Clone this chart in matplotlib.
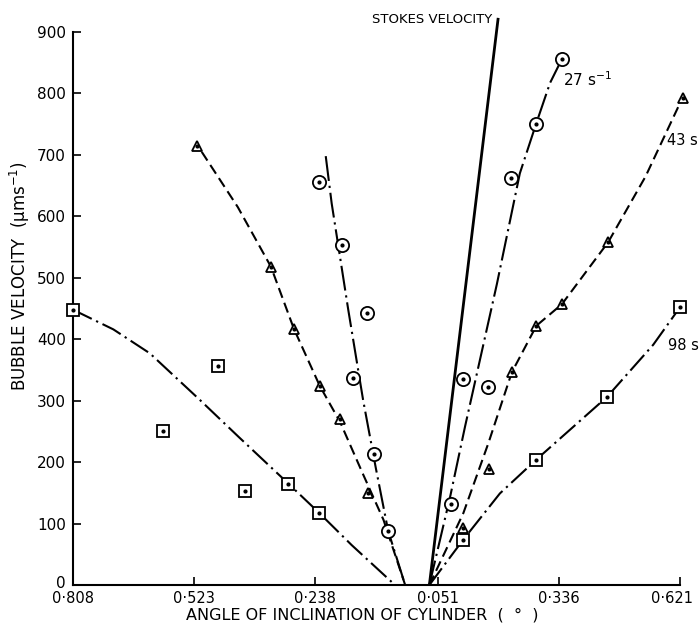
import matplotlib
matplotlib.use("Agg")
import matplotlib.pyplot as plt
from matplotlib.transforms import ScaledTranslation

# ---- data (signed angle: left side negative, right side positive) ----
# left branch
sq_left_x = [-0.808, -0.597, -0.466, -0.403, -0.301, -0.228]
sq_left_y = [448, 251, 357, 153, 165, 117]
sq_left_curve_x = [-0.808, -0.713, -0.627, -0.509, -0.418, -0.301, -0.228, -0.152, -0.050]
sq_left_curve_y = [448, 416, 377, 301, 241, 165, 117, 65, 0]

tri_left_x = [-0.515, -0.342, -0.288, -0.227, -0.179, -0.114]
tri_left_y = [715, 518, 417, 324, 270, 149]
tri_left_curve_x = [-0.505, -0.420, -0.342, -0.288, -0.227, -0.179, -0.125, -0.077, -0.026]
tri_left_curve_y = [705, 615, 518, 417, 324, 265, 180, 106, 0]

cir_left_x = [-0.230, -0.174, -0.116, -0.148, -0.099, -0.066]
cir_left_y = [656, 554, 442, 337, 213, 88]
cir_left_curve_x = [-0.213, -0.199, -0.160, -0.125, -0.095, -0.066, -0.026]
cir_left_curve_y = [698, 621, 448, 301, 190, 88, 0]

# right branch
stokes_x = [0.031, 0.193]
stokes_y = [0, 923]

cir_right_x = [0.343, 0.282, 0.224, 0.109, 0.168, 0.081]
cir_right_y = [856, 750, 663, 336, 322, 132]
cir_right_curve_x = [0.031, 0.080, 0.115, 0.190, 0.244, 0.282, 0.315, 0.343]
cir_right_curve_y = [0, 144, 258, 490, 670, 750, 817, 856]

tri_right_x = [0.627, 0.452, 0.343, 0.283, 0.225, 0.171, 0.111]
tri_right_y = [793, 558, 457, 422, 346, 189, 92]
tri_right_curve_x = [0.031, 0.111, 0.170, 0.225, 0.283, 0.343, 0.452, 0.540, 0.627]
tri_right_curve_y = [0, 117, 231, 346, 422, 457, 558, 665, 793]

sq_right_x = [0.621, 0.449, 0.281, 0.111]
sq_right_y = [452, 306, 203, 74]
sq_right_curve_x = [0.031, 0.111, 0.197, 0.281, 0.449, 0.558, 0.621]
sq_right_curve_y = [0, 74, 149, 203, 306, 391, 452]

xtick_pos = [-0.808, -0.523, -0.238, 0.051, 0.336, 0.621]
xtick_labels = ["0·808", "0·523", "0·238", "0·051", "0·336", "0·621"]
ytick_pos = [0, 100, 200, 300, 400, 500, 600, 700, 800, 900]

plt.rcParams['font.family'] = ['DejaVu Sans']
plt.rcParams['lines.scale_dashes'] = False

fig = plt.figure(figsize=(7.0, 6.26), dpi=100)
ax = fig.add_axes([0.1043, 0.0655, 0.8671, 0.9128])
ax.set_xlim(-0.808, 0.621)
ax.set_ylim(0, 930)

lw = 1.5
sq_style = (0, (15, 3.5, 1.6, 3.5))
cir_style = (0, (18, 3.5, 1.6, 3.5))
tri_style = (0, (7.5, 3.8))

ax.plot(sq_left_curve_x, sq_left_curve_y, color='black', lw=lw, linestyle=sq_style)
ax.plot(tri_left_curve_x, tri_left_curve_y, color='black', lw=lw, linestyle=tri_style)
ax.plot(cir_left_curve_x, cir_left_curve_y, color='black', lw=lw, linestyle=cir_style)
ax.plot(stokes_x, stokes_y, color='black', lw=2.0, solid_capstyle='butt')
ax.plot(cir_right_curve_x, cir_right_curve_y, color='black', lw=lw, linestyle=cir_style)
ax.plot(tri_right_curve_x, tri_right_curve_y, color='black', lw=lw, linestyle=tri_style)
ax.plot(sq_right_curve_x, sq_right_curve_y, color='black', lw=lw, linestyle=sq_style)

def markers(xs, ys, m, ms):
    ax.plot(xs, ys, linestyle='none', marker=m, markersize=ms,
            markerfacecolor='white', markeredgecolor='black', markeredgewidth=1.3,
            zorder=5, clip_on=False)
    ax.plot(xs, ys, linestyle='none', marker='o', markersize=2.0,
            color='black', zorder=6, clip_on=False)

markers(sq_left_x, sq_left_y, 's', 8.5)
markers(sq_right_x, sq_right_y, 's', 8.5)
markers(tri_left_x, tri_left_y, '^', 7.5)
markers(tri_right_x, tri_right_y, '^', 7.5)
markers(cir_left_x, cir_left_y, 'o', 9.5)
markers(cir_right_x, cir_right_y, 'o', 9.5)

ax.text(0.345, 823, "27 s$^{-1}$", fontsize=11, ha='left', va='center')
ax.text(0.591, 724, "43 s", fontsize=10.5, ha='left', va='center')
ax.text(0.593, 390, "98 s", fontsize=10.5, ha='left', va='center')
ax.text(0.180, 920, "STOKES VELOCITY", fontsize=9.5, ha='right', va='center')

ax.spines['top'].set_visible(False)
ax.spines['right'].set_visible(False)
ax.spines['left'].set_bounds(0, 900)
for s in ('left', 'bottom'):
    ax.spines[s].set_linewidth(1.5)

ax.set_xticks(xtick_pos)
ax.set_xticklabels(xtick_labels)
ax.set_yticks(ytick_pos)
ax.tick_params(direction='in', length=6, width=1.2, labelsize=11)
ax.tick_params(axis='x', pad=4, labelsize=10.5)
ax.tick_params(axis='y', pad=5)

# last x tick label sits slightly left of its tick, as in the original
last = ax.get_xticklabels()[-1]
last.set_transform(last.get_transform() + ScaledTranslation(-8 / 100, 0, fig.dpi_scale_trans))
# the "0" of the y axis sits a little above the x tick labels
zero = ax.get_yticklabels()[0]
zero.set_transform(zero.get_transform() + ScaledTranslation(0, 3 / 100, fig.dpi_scale_trans))

ax.set_xlabel("ANGLE OF INCLINATION OF CYLINDER  (  °  )", fontsize=11.5)
ax.xaxis.label.set_horizontalalignment('left')
ax.xaxis.set_label_coords((186 - 73) / 607, -0.040)
ax.set_ylabel("BUBBLE VELOCITY  (μms$^{-1}$)", fontsize=12)
ax.yaxis.set_label_coords(-0.068, 0.54)

fig.savefig("out.png", dpi=100)
